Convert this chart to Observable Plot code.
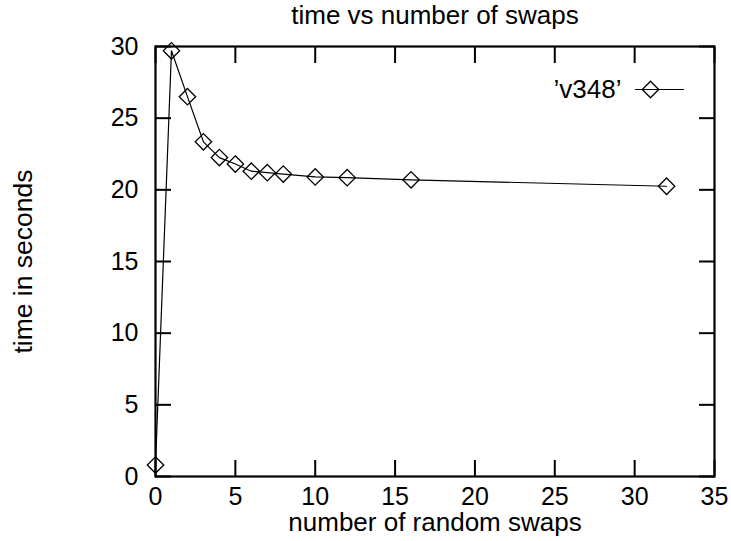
<!DOCTYPE html>
<html>
<head>
<meta charset="utf-8">
<script src="https://cdn.jsdelivr.net/npm/d3@7"></script>
<script src="https://cdn.jsdelivr.net/npm/@observablehq/plot@0.6"></script>
<style>
  html, body { margin: 0; padding: 0; background: #fff; }
  #chart { width: 731px; height: 541px; }
</style>
</head>
<body>
<div id="chart"></div>
<script>
// ---- data ----
const swaps = [0, 1, 2, 3, 4, 5, 6, 7, 8, 10, 12, 16, 32];
const seconds = [0.8, 29.7, 26.5, 23.35, 22.25, 21.8, 21.3, 21.2, 21.1, 20.9, 20.85, 20.7, 20.25];
const xTicks = [0, 5, 10, 15, 20, 25, 30, 35];
const yTicks = [0, 5, 10, 15, 20, 25, 30];
const seriesName = "\u2019v348\u2019";
const titleText = "time vs number of swaps";
const xLabel = "number of random swaps";
const yLabel = "time in seconds";

const rows = swaps.map((s, i) => ({swaps: s, seconds: seconds[i]}));

const FS = 25;
const LFS = 26;
const lineShape = {draw(context, l) { context.moveTo(0, 0); context.lineTo(0, -l); }};

const chart = Plot.plot({
  width: 731,
  height: 541,
  marginLeft: 155,
  marginRight: 17,
  marginTop: 46,
  marginBottom: 65,
  style: {fontFamily: "'Liberation Sans', Arial, Helvetica, sans-serif", fontSize: FS + "px", color: "#000", background: "#fff", overflow: "visible"},
  x: {domain: [0, 35], nice: false},
  y: {domain: [0, 30], nice: false},
  marks: [
    // ticks (inward, mirrored on all sides)
    Plot.axisX({anchor: "bottom", ticks: xTicks, tickSize: -16, tickPadding: 27, strokeWidth: 2, fontSize: FS, label: null}),
    Plot.axisX({anchor: "top", ticks: xTicks, tickSize: -16, strokeWidth: 2, tickFormat: () => "", label: null}),
    Plot.axisY({anchor: "left", ticks: yTicks, tickSize: -16, tickPadding: 33, strokeWidth: 2, fontSize: FS, label: null}),
    Plot.axisY({anchor: "right", ticks: yTicks, tickSize: -16, strokeWidth: 2, tickFormat: () => "", label: null}),
    Plot.frame({stroke: "#000", strokeWidth: 2.2}),
    // data
    Plot.line(rows, {x: "swaps", y: "seconds", stroke: "#000", strokeWidth: 1.2}),
    Plot.dot(rows, {x: "swaps", y: "seconds", symbol: "diamond2", r: 7.4, stroke: "#000", strokeWidth: 1.3, fill: "none"}),
    // legend
    Plot.text([seriesName], {frameAnchor: "top-right", text: d => d, textAnchor: "end", lineAnchor: "middle", dx: -93, dy: 43, fontSize: LFS}),
    Plot.vector([seriesName], {frameAnchor: "top-right", rotate: 90, length: 48, anchor: "start", shape: lineShape, dx: -79, dy: 43, stroke: "#000", strokeWidth: 1.2}),
    Plot.dot([seriesName], {frameAnchor: "top-right", symbol: "diamond2", r: 7.4, dx: -64, dy: 43, stroke: "#000", strokeWidth: 1.3, fill: "none"}),
    // titles
    Plot.text([titleText], {frameAnchor: "top", text: d => d, textAnchor: "middle", lineAnchor: "middle", dy: -31, fontSize: LFS}),
    Plot.text([xLabel], {frameAnchor: "bottom", text: d => d, textAnchor: "middle", dy: 54, fontSize: LFS}),
    Plot.text([yLabel], {frameAnchor: "left", text: d => d, textAnchor: "middle", lineAnchor: "middle", dx: -132, rotate: -90, fontSize: 26.5})
  ]
});
document.getElementById("chart").appendChild(chart);
</script>
</body>
</html>
